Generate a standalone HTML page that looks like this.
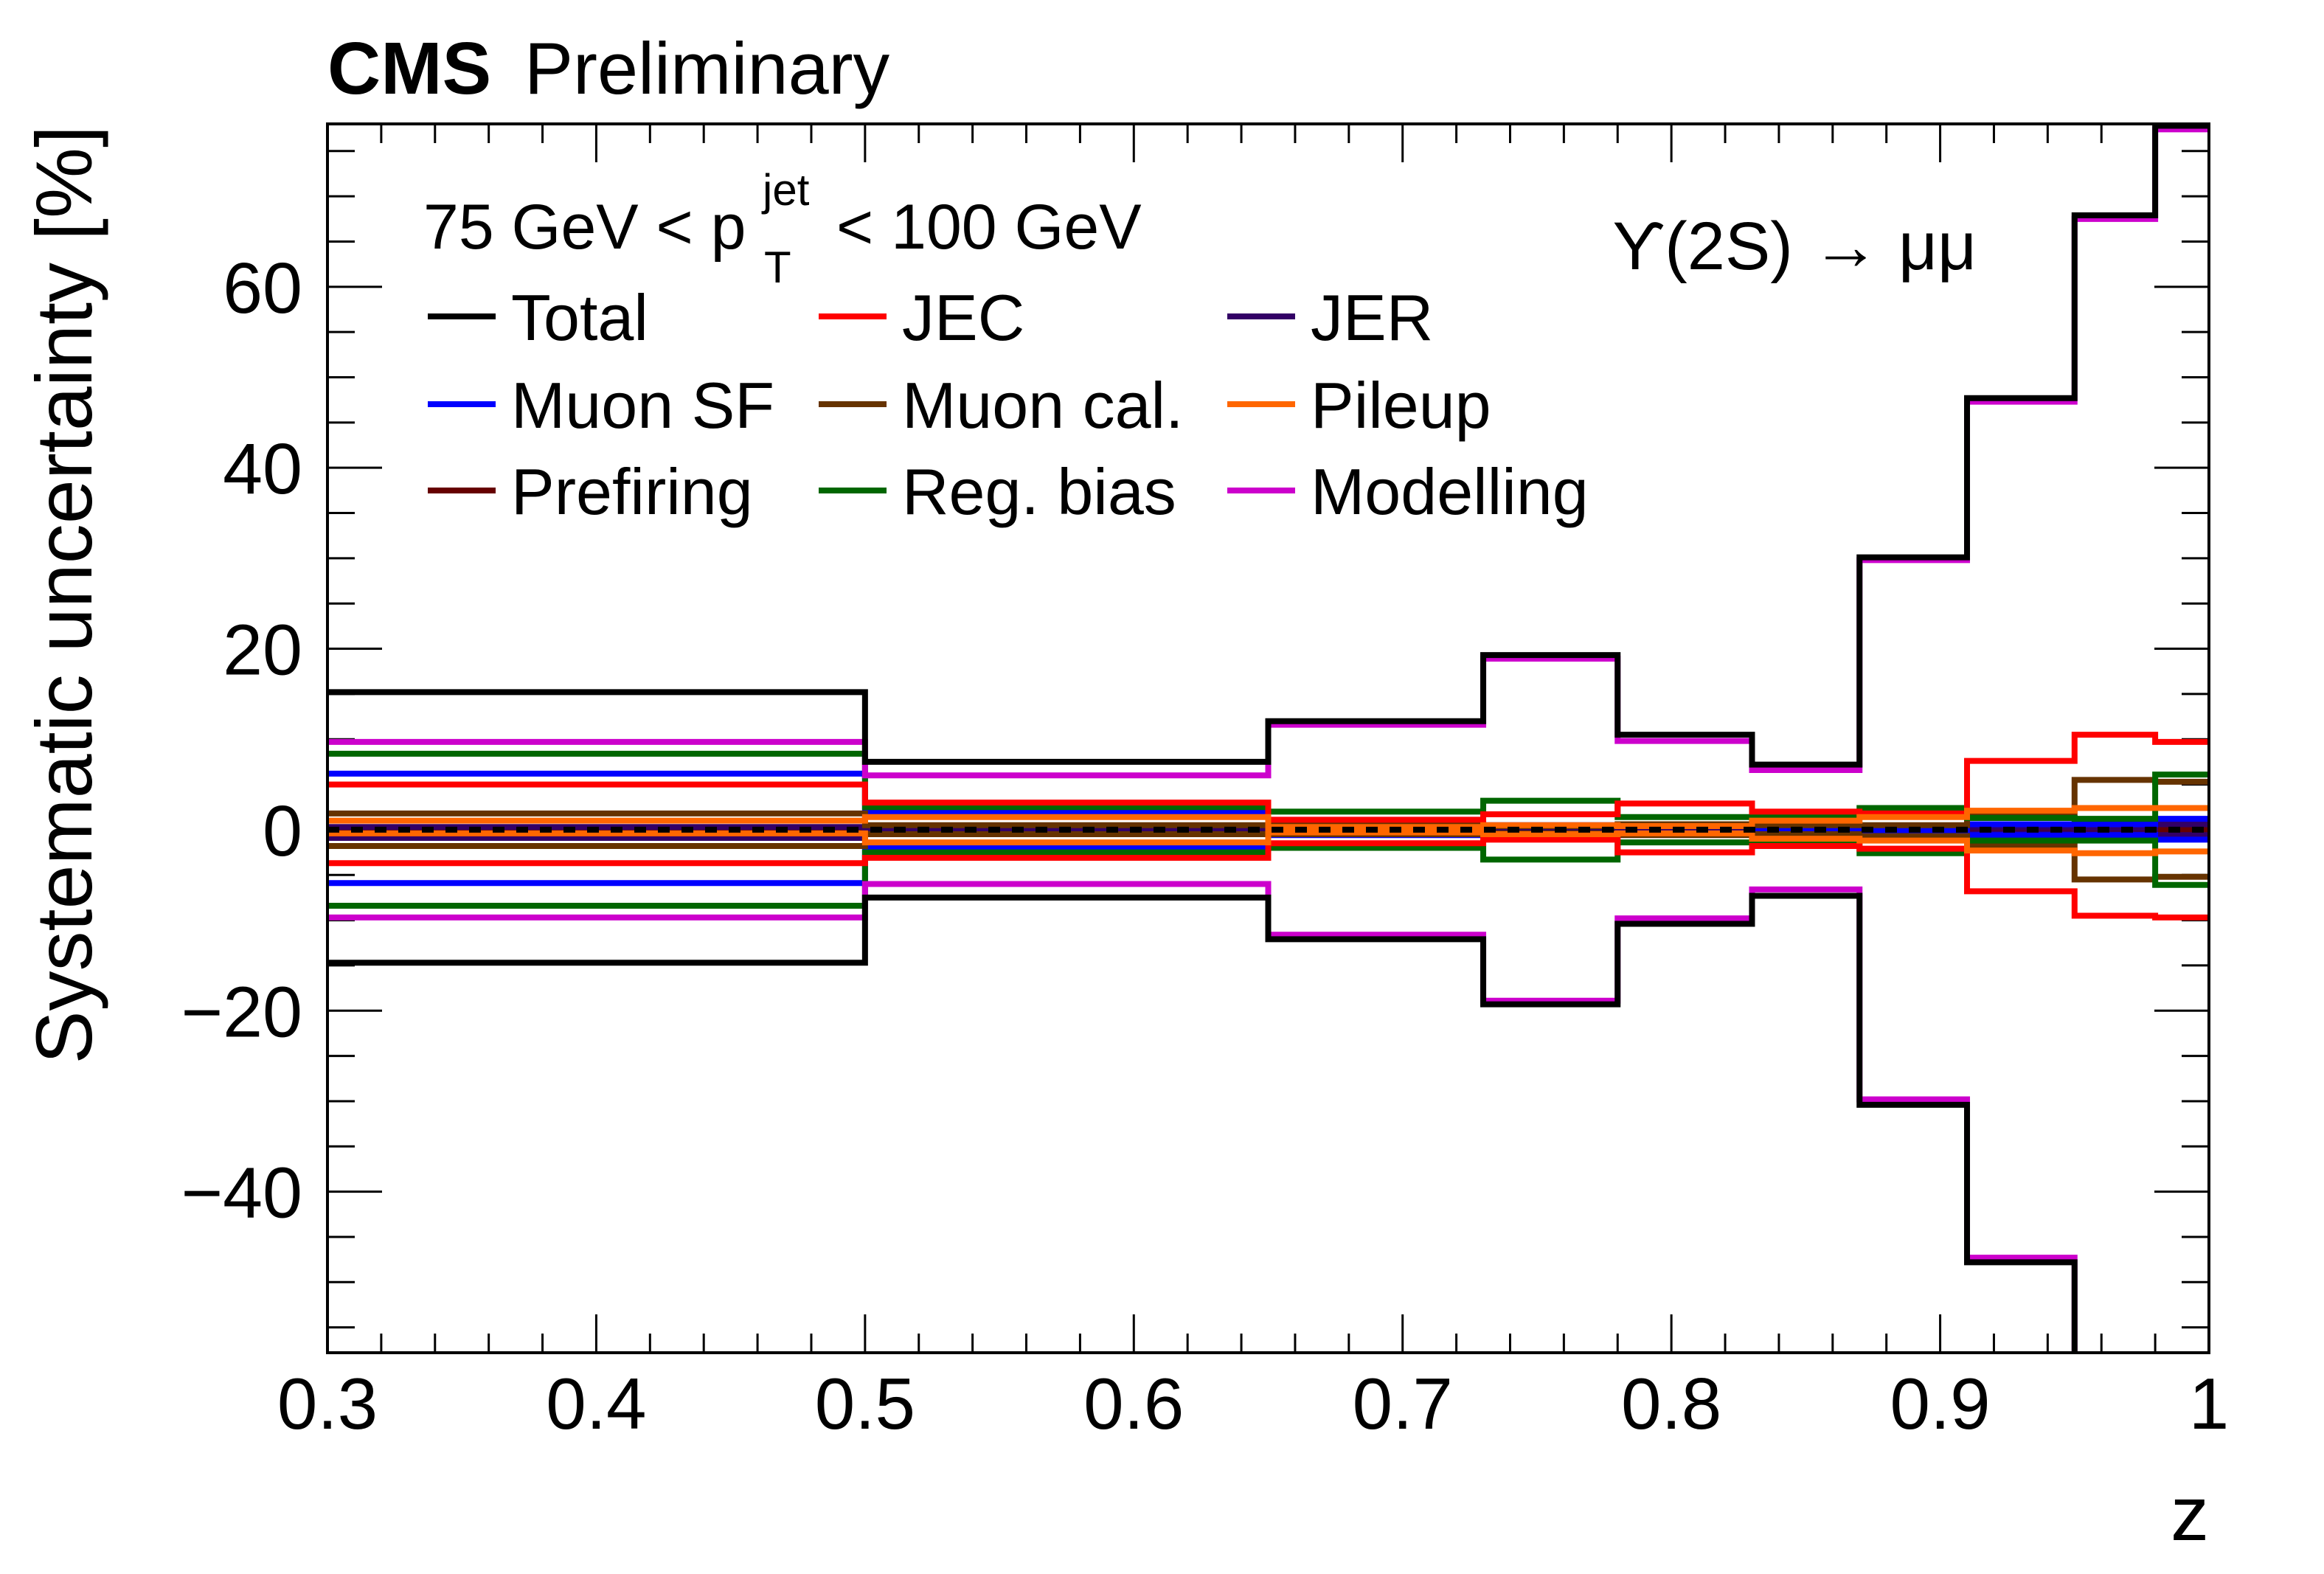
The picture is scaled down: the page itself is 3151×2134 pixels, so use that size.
<!DOCTYPE html>
<html><head><meta charset="utf-8"><style>
html,body{margin:0;padding:0;background:#fff;}
svg{display:block;font-family:"Liberation Sans",sans-serif;}
</style></head><body>
<svg id="chart" width="3151" height="2134" viewBox="0 0 3151 2134" xmlns="http://www.w3.org/2000/svg">
<defs><clipPath id="frameClip"><rect x="444" y="168" width="2551" height="1666"/></clipPath></defs>
<text x="444" y="127" font-size="100" font-weight="bold">CMS</text>
<text x="711" y="127" font-size="99">Preliminary</text>
<text transform="translate(124,170) rotate(-90)" text-anchor="end" font-size="108">Systematic uncertainty [%]</text>
<text x="2995" y="2088" text-anchor="end" font-size="104">z</text>
<g id="ticks"></g>
<g id="series" clip-path="url(#frameClip)"></g>
<rect x="444" y="168" width="2551" height="1666" fill="none" stroke="#000" stroke-width="4"/>
<g font-size="88">
<text x="574" y="337" font-size="86">75 GeV &lt; p</text>
<text x="1034" y="278" font-size="60">jet</text>
<text x="1036" y="383" font-size="60">T</text>
<text x="1134" y="337" font-size="86">&lt; 100 GeV</text>
<text x="2186" y="365" font-size="92">ϒ(2S) → μμ</text>
<g id="legend-entries"></g>
</g>
</svg>
<script>
const binEdges=[0.3,0.5,0.65,0.73,0.78,0.83,0.87,0.91,0.95,0.98,1.0];
const xTickLabels=["0.3","0.4","0.5","0.6","0.7","0.8","0.9","1"];
const xTickValues=[0.3,0.4,0.5,0.6,0.7,0.8,0.9,1.0];
const yTickLabels=["−40","−20","0","20","40","60"];
const yTickValues=[-40,-20,0,20,40,60];
const totalUp=[15.2,7.5,12.0,19.3,10.5,7.2,30.1,47.7,67.9,77.8];
const totalDown=[-14.7,-7.5,-12.1,-19.3,-10.4,-7.3,-30.4,-47.8,-68,-78];
const modellingUp=[9.7,6.0,11.6,18.9,9.8,6.6,29.8,47.3,67.5,77.4];
const modellingDown=[-9.7,-6.0,-11.6,-18.9,-9.8,-6.6,-29.8,-47.3,-67.5,-77.4];
const jecUp=[5.0,3.0,1.1,1.7,2.9,2.0,1.8,7.6,10.5,9.7];
const jecDown=[-3.7,-3.1,-1.5,-1.1,-2.5,-1.8,-2.1,-6.8,-9.5,-9.7];
const regBiasUp=[8.4,2.5,2.0,3.2,1.4,1.4,2.4,1.3,1.2,6.1];
const regBiasDown=[-8.4,-2.5,-2.0,-3.3,-1.4,-1.3,-2.6,-1.2,-1.2,-6.1];
const muonSFUp=[6.2,2.0,0.6,0.5,0.4,0.3,0.2,0.6,0.6,1.2];
const muonSFDown=[-5.9,-1.9,-0.6,-0.5,-0.4,-0.3,-0.3,-0.6,-0.6,-1.1];
const muonCalUp=[1.8,0.5,0.5,0.4,0.6,0.5,0.5,1.7,5.5,5.3];
const muonCalDown=[-1.8,-0.5,-0.5,-0.4,-0.6,-0.5,-0.7,-1.8,-5.5,-5.2];
const pileupUp=[1.0,1.4,0.3,0.5,0.4,1.0,1.4,2.1,2.4,2.4];
const pileupDown=[-0.4,-1.4,-0.3,-0.5,-0.4,-1.0,-1.2,-2.3,-2.6,-2.4];
const jerUp=[0.3,0.2,0.2,0.2,0.2,0.2,0.2,0.3,0.2,0.6];
const jerDown=[-0.9,-0.2,-0.2,-0.2,-0.2,-0.2,-0.2,-0.4,-0.5,-0.6];
const prefiringUp=[0.1,0.1,0.1,0.1,0.1,0.1,0.1,0.1,0.1,0.1];
const prefiringDown=[-0.1,-0.1,-0.1,-0.1,-0.1,-0.1,-0.1,-0.1,-0.1,-0.1];

const NS="http://www.w3.org/2000/svg";
const X0=444,X1=2995,Y0=168,Y1=1834,XMIN=0.3,XMAX=1.0,YMIN=-57.8,YMAX=78.0;
function xs(v){return X0+(v-XMIN)/(XMAX-XMIN)*(X1-X0);}
function ys(v){return Y1-(v-YMIN)/(YMAX-YMIN)*(Y1-Y0);}
function mk(tag,attrs,parent){const e=document.createElementNS(NS,tag);for(const k in attrs)e.setAttribute(k,attrs[k]);parent.appendChild(e);return e;}

const ticks=document.getElementById('ticks');
for(let i=0;i<=35;i++){
  const v=XMIN+i*0.02;const x=xs(v);const major=(i%5===0);const L=major?52:26;
  const t1=mk('line',{x1:x,x2:x,y1:Y1,y2:Y1-L,stroke:'#000','stroke-width':3},ticks);
  
  
  const t2=mk('line',{x1:x,x2:x,y1:Y0,y2:Y0+L,stroke:'#000','stroke-width':3},ticks);
  
  
}
xTickValues.forEach((v,i)=>{
  const t=mk('text',{x:xs(v),y:1937,'text-anchor':'middle','font-size':98},ticks);
  t.textContent=xTickLabels[i];
  
  
});
for(let v=-55;v<=75;v+=5){
  const y=ys(v);const major=(v%20===0);const L=major?74:37;
  const t1=mk('line',{x1:X0,x2:X0+L,y1:y,y2:y,stroke:'#000','stroke-width':3},ticks);
  
  
  const t2=mk('line',{x1:X1,x2:X1-L,y1:y,y2:y,stroke:'#000','stroke-width':3},ticks);
  
  
}
yTickValues.forEach((v,i)=>{
  const t=mk('text',{x:410,y:ys(v)+35,'text-anchor':'end','font-size':97},ticks);
  t.textContent=yTickLabels[i];
  
  
});

const series=document.getElementById('series');
function stepPath(vals){
  let d='M'+xs(binEdges[0])+','+ys(vals[0]);
  for(let i=0;i<vals.length;i++){
    if(i>0)d+=' L'+xs(binEdges[i])+','+ys(vals[i]);
    d+=' L'+xs(binEdges[i+1])+','+ys(vals[i]);
  }
  return d;
}
const seriesList=[
  ['prefiring',prefiringUp,prefiringDown,'#660000'],
  ['jer',jerUp,jerDown,'#330066'],
  ['muon-sf',muonSFUp,muonSFDown,'#0000ff'],
  ['muon-cal',muonCalUp,muonCalDown,'#663300'],
  ['reg-bias',regBiasUp,regBiasDown,'#006600'],
  ['jec',jecUp,jecDown,'#ff0000'],
  ['pileup',pileupUp,pileupDown,'#ff6600'],
  ['modelling',modellingUp,modellingDown,'#cc00cc'],
  ['total',totalUp,totalDown,'#000000']
];
seriesList.forEach(s=>{
  const up=mk('path',{d:stepPath(s[1]),fill:'none',stroke:s[3],'stroke-width':8},series);
  
  
  const dn=mk('path',{d:stepPath(s[2]),fill:'none',stroke:s[3],'stroke-width':8},series);
  
  
});
const zl=mk('line',{x1:X0,x2:X1,y1:ys(0),y2:ys(0),stroke:'#000','stroke-width':8,'stroke-dasharray':'16 16'},series);



const legendEntries=[
  ['Total','#000000',0,0],['JEC','#ff0000',1,0],['JER','#330066',2,0],
  ['Muon SF','#0000ff',0,1],['Muon cal.','#663300',1,1],['Pileup','#ff6600',2,1],
  ['Prefiring','#660000',0,2],['Reg. bias','#006600',1,2],['Modelling','#cc00cc',2,2]
];
const colX=[580,1110,1664];
const rowY=[429,548,665];
const lg=document.getElementById('legend-entries');
legendEntries.forEach(e=>{
  const g=mk('g',{},lg);
  
  
  const x=colX[e[2]],y=rowY[e[3]];
  mk('line',{x1:x,x2:x+92,y1:y,y2:y,stroke:e[1],'stroke-width':8},g);
  const t=mk('text',{x:x+113,y:y+32,'font-size':88},g);
  t.textContent=e[0];
});
</script>
</body></html>
